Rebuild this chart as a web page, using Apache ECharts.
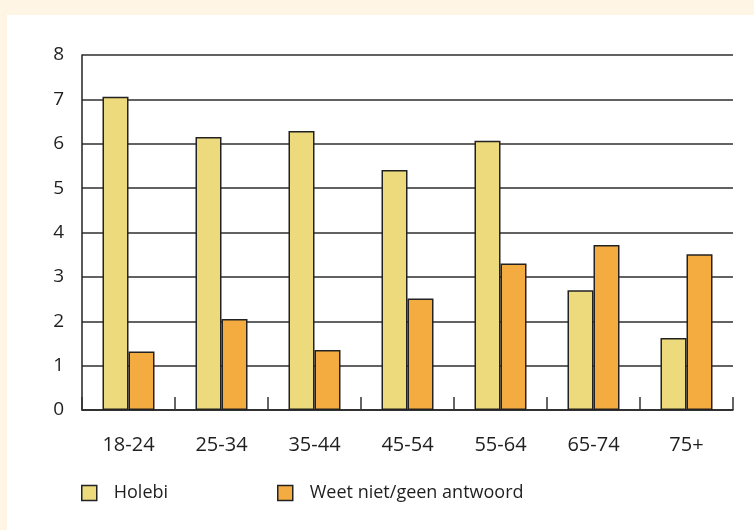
<!DOCTYPE html>
<html>
<head>
<meta charset="utf-8">
<script src="https://cdn.jsdelivr.net/npm/echarts@6/dist/echarts.min.js"></script>
<style>
    html, body {
        margin: 0;
        padding: 0;
        background: #fef5e4;
    }
    #chart {
        position: absolute;
        left: 7px;
        top: 15px;
        width: 747px;
        height: 515px;
        background: #ffffff;
    }
</style>
</head>
<body>
<div id="chart"></div>
<script>
// age groups and shares (%)
const categories = ['18-24', '25-34', '35-44', '45-54', '55-64', '65-74', '75+'];
const holebi = [7.06, 6.15, 6.29, 5.41, 6.07, 2.70, 1.62];
const weetNiet = [1.32, 2.05, 1.35, 2.51, 3.30, 3.72, 3.51];
const yTicks = [0, 1, 2, 3, 4, 5, 6, 7, 8];

const fontFamily = '"Open Sans", "Noto Sans", sans-serif';
const textColor = '#1f1f1f';

const myChart = echarts.init(document.getElementById('chart'), null, { renderer: 'canvas' });

const legendStyle = {
    top: 464,
    itemWidth: 15,
    itemHeight: 15,
    icon: 'rect',
    itemStyle: { borderColor: '#222', borderWidth: 1.5 },
    textStyle: { fontFamily, fontSize: 18, color: textColor, padding: [0, 0, 0, 12] }
};

const option = {
    animation: false,
    backgroundColor: 'transparent',
    grid: {
        left: 75,
        right: 21,
        top: 40,
        bottom: 120
    },
    legend: [
        { ...legendStyle, data: ['Holebi'], left: 69 },
        { ...legendStyle, data: ['Weet niet/geen antwoord'], left: 265 }
    ],
    xAxis: {
        type: 'category',
        data: categories,
        axisLine: { show: true, lineStyle: { color: '#222', width: 1.5 } },
        axisTick: { show: true, inside: true, length: 13, lineStyle: { color: '#333', width: 1.5 } },
        axisLabel: { fontFamily, fontSize: 20, color: textColor, margin: 25 },
        splitLine: { show: false }
    },
    yAxis: {
        type: 'value',
        min: yTicks[0],
        max: yTicks[yTicks.length - 1],
        interval: 1,
        axisLine: { show: true, lineStyle: { color: '#222', width: 1.5 } },
        axisTick: { show: false },
        axisLabel: { fontFamily, fontSize: 19, color: textColor, margin: 18 },
        splitLine: { show: true, lineStyle: { color: '#2e2e2e', width: 1.5 } }
    },
    series: [
        {
            name: 'Holebi',
            type: 'bar',
            data: holebi,
            barWidth: 26,
            barGap: '0%',
            itemStyle: { color: '#ecda7d', borderColor: '#222', borderWidth: 1.5 }
        },
        {
            name: 'Weet niet/geen antwoord',
            type: 'bar',
            data: weetNiet,
            barWidth: 26,
            barGap: '0%',
            itemStyle: { color: '#f4ac40', borderColor: '#222', borderWidth: 1.5 }
        }
    ]
};

myChart.setOption(option);
window.addEventListener('resize', () => myChart.resize());
</script>
</body>
</html>
